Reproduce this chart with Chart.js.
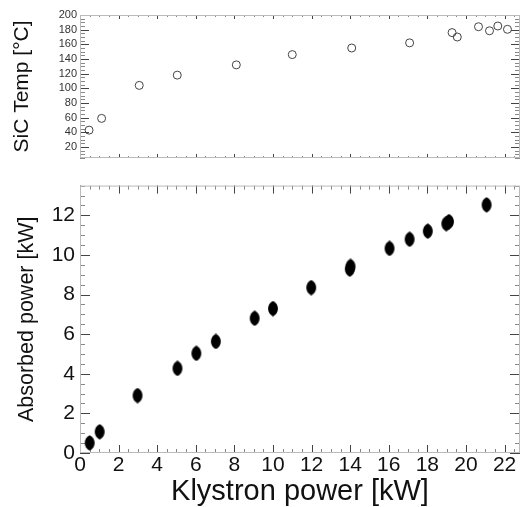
<!DOCTYPE html>
<html>
<head>
<meta charset="utf-8">
<script src="https://cdn.jsdelivr.net/npm/chart.js@4"></script>
<style>
  html, body { margin: 0; padding: 0; background: #fff; }
  #w1 { position: absolute; left: 0; top: 0; width: 525px; height: 168px; }
  #w2 { position: absolute; left: 0; top: 168px; width: 525px; height: 339px; }
</style>
</head>
<body>
<div id="w1"><canvas id="c1"></canvas></div>
<div id="w2"><canvas id="c2"></canvas></div>
<script>
// ---- data ----
const tempKlystron = [0.47, 1.12, 3.07, 5.04, 8.1, 11.0, 14.08, 17.08, 19.28, 19.55, 20.65, 21.22, 21.65, 22.15];
const sicTemp      = [43, 59, 104, 118, 132, 146, 155, 162, 176, 170, 184, 178.5, 185, 180.5];

const absKlystron  = [0.5, 1.02, 2.98, 5.05, 6.03, 7.04, 9.05, 10.0, 11.98, 13.98, 14.02, 16.04, 17.08, 18.02, 18.98, 19.12, 21.07];
const absorbed     = [0.51, 1.07, 2.9, 4.27, 5.03, 5.63, 6.8, 7.29, 8.35, 9.28, 9.42, 10.33, 10.79, 11.2, 11.58, 11.68, 12.53];

const xTickLabels      = [0, 2, 4, 6, 8, 10, 12, 14, 16, 18, 20, 22];
const tempTickLabels   = [20, 40, 60, 80, 100, 120, 140, 160, 180, 200];
const absTickLabels    = [0, 2, 4, 6, 8, 10, 12];

const FONT = "'Liberation Sans', Arial, sans-serif";

// lens-shaped filled marker
const lens = document.createElement('canvas');
lens.width = 12; lens.height = 16;
(function () {
  const g = lens.getContext('2d');
  g.fillStyle = '#000';
  g.beginPath();
  g.moveTo(6, 0.3);
  g.bezierCurveTo(-0.6, 3.3, -0.6, 12.7, 6, 15.7);
  g.bezierCurveTo(12.6, 12.7, 12.6, 3.3, 6, 0.3);
  g.fill();
})();

const frameTicks = {
  id: 'frameTicks',
  beforeDatasetsDraw(chart, args, opts) {
    const { ctx, chartArea: a, scales } = chart;
    ctx.save();
    ctx.lineWidth = 1;
    const drawSet = (scale, horizontal, step, len, sides, color) => {
      const i0 = Math.ceil(scale.min / step - 1e-9);
      const i1 = Math.floor(scale.max / step + 1e-9);
      ctx.strokeStyle = color;
      ctx.beginPath();
      for (let i = i0; i <= i1; i++) {
        const v = i * step;
        const p = Math.round(scale.getPixelForValue(v)) + 0.5;
        if (horizontal) {
          if (sides.includes('bottom')) { ctx.moveTo(p, a.bottom); ctx.lineTo(p, a.bottom - len); }
          if (sides.includes('top')) { ctx.moveTo(p, a.top); ctx.lineTo(p, a.top + len); }
        } else {
          if (sides.includes('left')) { ctx.moveTo(a.left, p); ctx.lineTo(a.left + len, p); }
          if (sides.includes('right')) { ctx.moveTo(a.right, p); ctx.lineTo(a.right - len, p); }
        }
      }
      ctx.stroke();
    };
    const x = opts.x, y = opts.y;
    drawSet(scales.x, true, x.minor, x.minLen, ['top', 'bottom'], '#888');
    drawSet(scales.x, true, x.major, x.majLen, ['top', 'bottom'], '#444');
    drawSet(scales.y, false, y.minor, y.minLen, ['left', 'right'], '#888');
    drawSet(scales.y, false, y.major, y.majLen, ['left', 'right'], '#444');
    ctx.strokeStyle = '#bbb';
    ctx.strokeRect(a.left + 0.5, a.top + 0.5, a.right - a.left - 1, a.bottom - a.top - 1);
    ctx.restore();
  }
};

Chart.register(frameTicks);

const noGrid = { display: false, drawTicks: false };

new Chart(document.getElementById('c1'), {
  type: 'scatter',
  data: {
    datasets: [{
      data: tempKlystron.map((v, i) => ({ x: v, y: sicTemp[i] })),
      pointStyle: 'circle',
      pointRadius: 4,
      borderWidth: 1,
      borderColor: '#444',
      backgroundColor: 'rgba(0,0,0,0)'
    }]
  },
  options: {
    responsive: true, maintainAspectRatio: false, animation: false,
    layout: { padding: { top: 15, right: 3, left: 0, bottom: 0 } },
    plugins: {
      legend: { display: false }, tooltip: { enabled: false },
      frameTicks: { x: { major: 2, minor: 0.5, majLen: 4, minLen: 2 }, y: { major: 20, minor: 5, majLen: 9, minLen: 5 } }
    },
    scales: {
      x: {
        type: 'linear', min: 0, max: 22.8,
        grid: noGrid, border: { display: false },
        ticks: { display: false },
        afterFit: s => { s.height = 10; }
      },
      y: {
        type: 'linear', min: 5, max: 200,
        grid: noGrid, border: { display: false },
        afterBuildTicks: s => { s.ticks = tempTickLabels.map(v => ({ value: v })); },
        ticks: { font: { family: FONT, size: 11 }, color: '#333', padding: 3, autoSkip: false },
        title: { display: true, text: 'SiC Temp [°C]', color: '#111',
          font: { family: FONT, size: 21, lineHeight: 1 }, padding: { top: 12, bottom: 0 } },
        afterFit: s => { s.width = 80; }
      }
    }
  }
});

new Chart(document.getElementById('c2'), {
  type: 'scatter',
  data: {
    datasets: [{
      data: absKlystron.map((v, i) => ({ x: v, y: absorbed[i] })),
      pointStyle: lens,
      pointRadius: 3
    }]
  },
  options: {
    responsive: true, maintainAspectRatio: false, animation: false,
    layout: { padding: { top: 12, right: 3, left: 0, bottom: 0 } },
    plugins: {
      legend: { display: false }, tooltip: { enabled: false },
      frameTicks: { x: { major: 2, minor: 0.5, majLen: 8, minLen: 4 }, y: { major: 2, minor: 0.5, majLen: 10, minLen: 5 } }
    },
    scales: {
      x: {
        type: 'linear', min: 0, max: 22.8,
        grid: noGrid, border: { display: false },
        afterBuildTicks: s => { s.ticks = xTickLabels.map(v => ({ value: v })); },
        ticks: { font: { family: FONT, size: 21, lineHeight: 1 }, color: '#111', padding: 2, maxRotation: 0, autoSkip: false },
        title: { display: true, text: 'Klystron power [kW]', color: '#111',
          font: { family: FONT, size: 29, lineHeight: 1 }, padding: { top: 0, bottom: 0.5 } },
        afterFit: s => { s.height = 54; }
      },
      y: {
        type: 'linear', min: 0, max: 13.5,
        grid: noGrid, border: { display: false },
        afterBuildTicks: s => { s.ticks = absTickLabels.map(v => ({ value: v })); },
        ticks: { font: { family: FONT, size: 21 }, color: '#111', padding: 5, autoSkip: false },
        title: { display: true, text: 'Absorbed power [kW]', color: '#111',
          font: { family: FONT, size: 21.5, lineHeight: 1 }, padding: { top: 16, bottom: 0 } },
        afterFit: s => { s.width = 80; }
      }
    }
  }
});
</script>
</body>
</html>
